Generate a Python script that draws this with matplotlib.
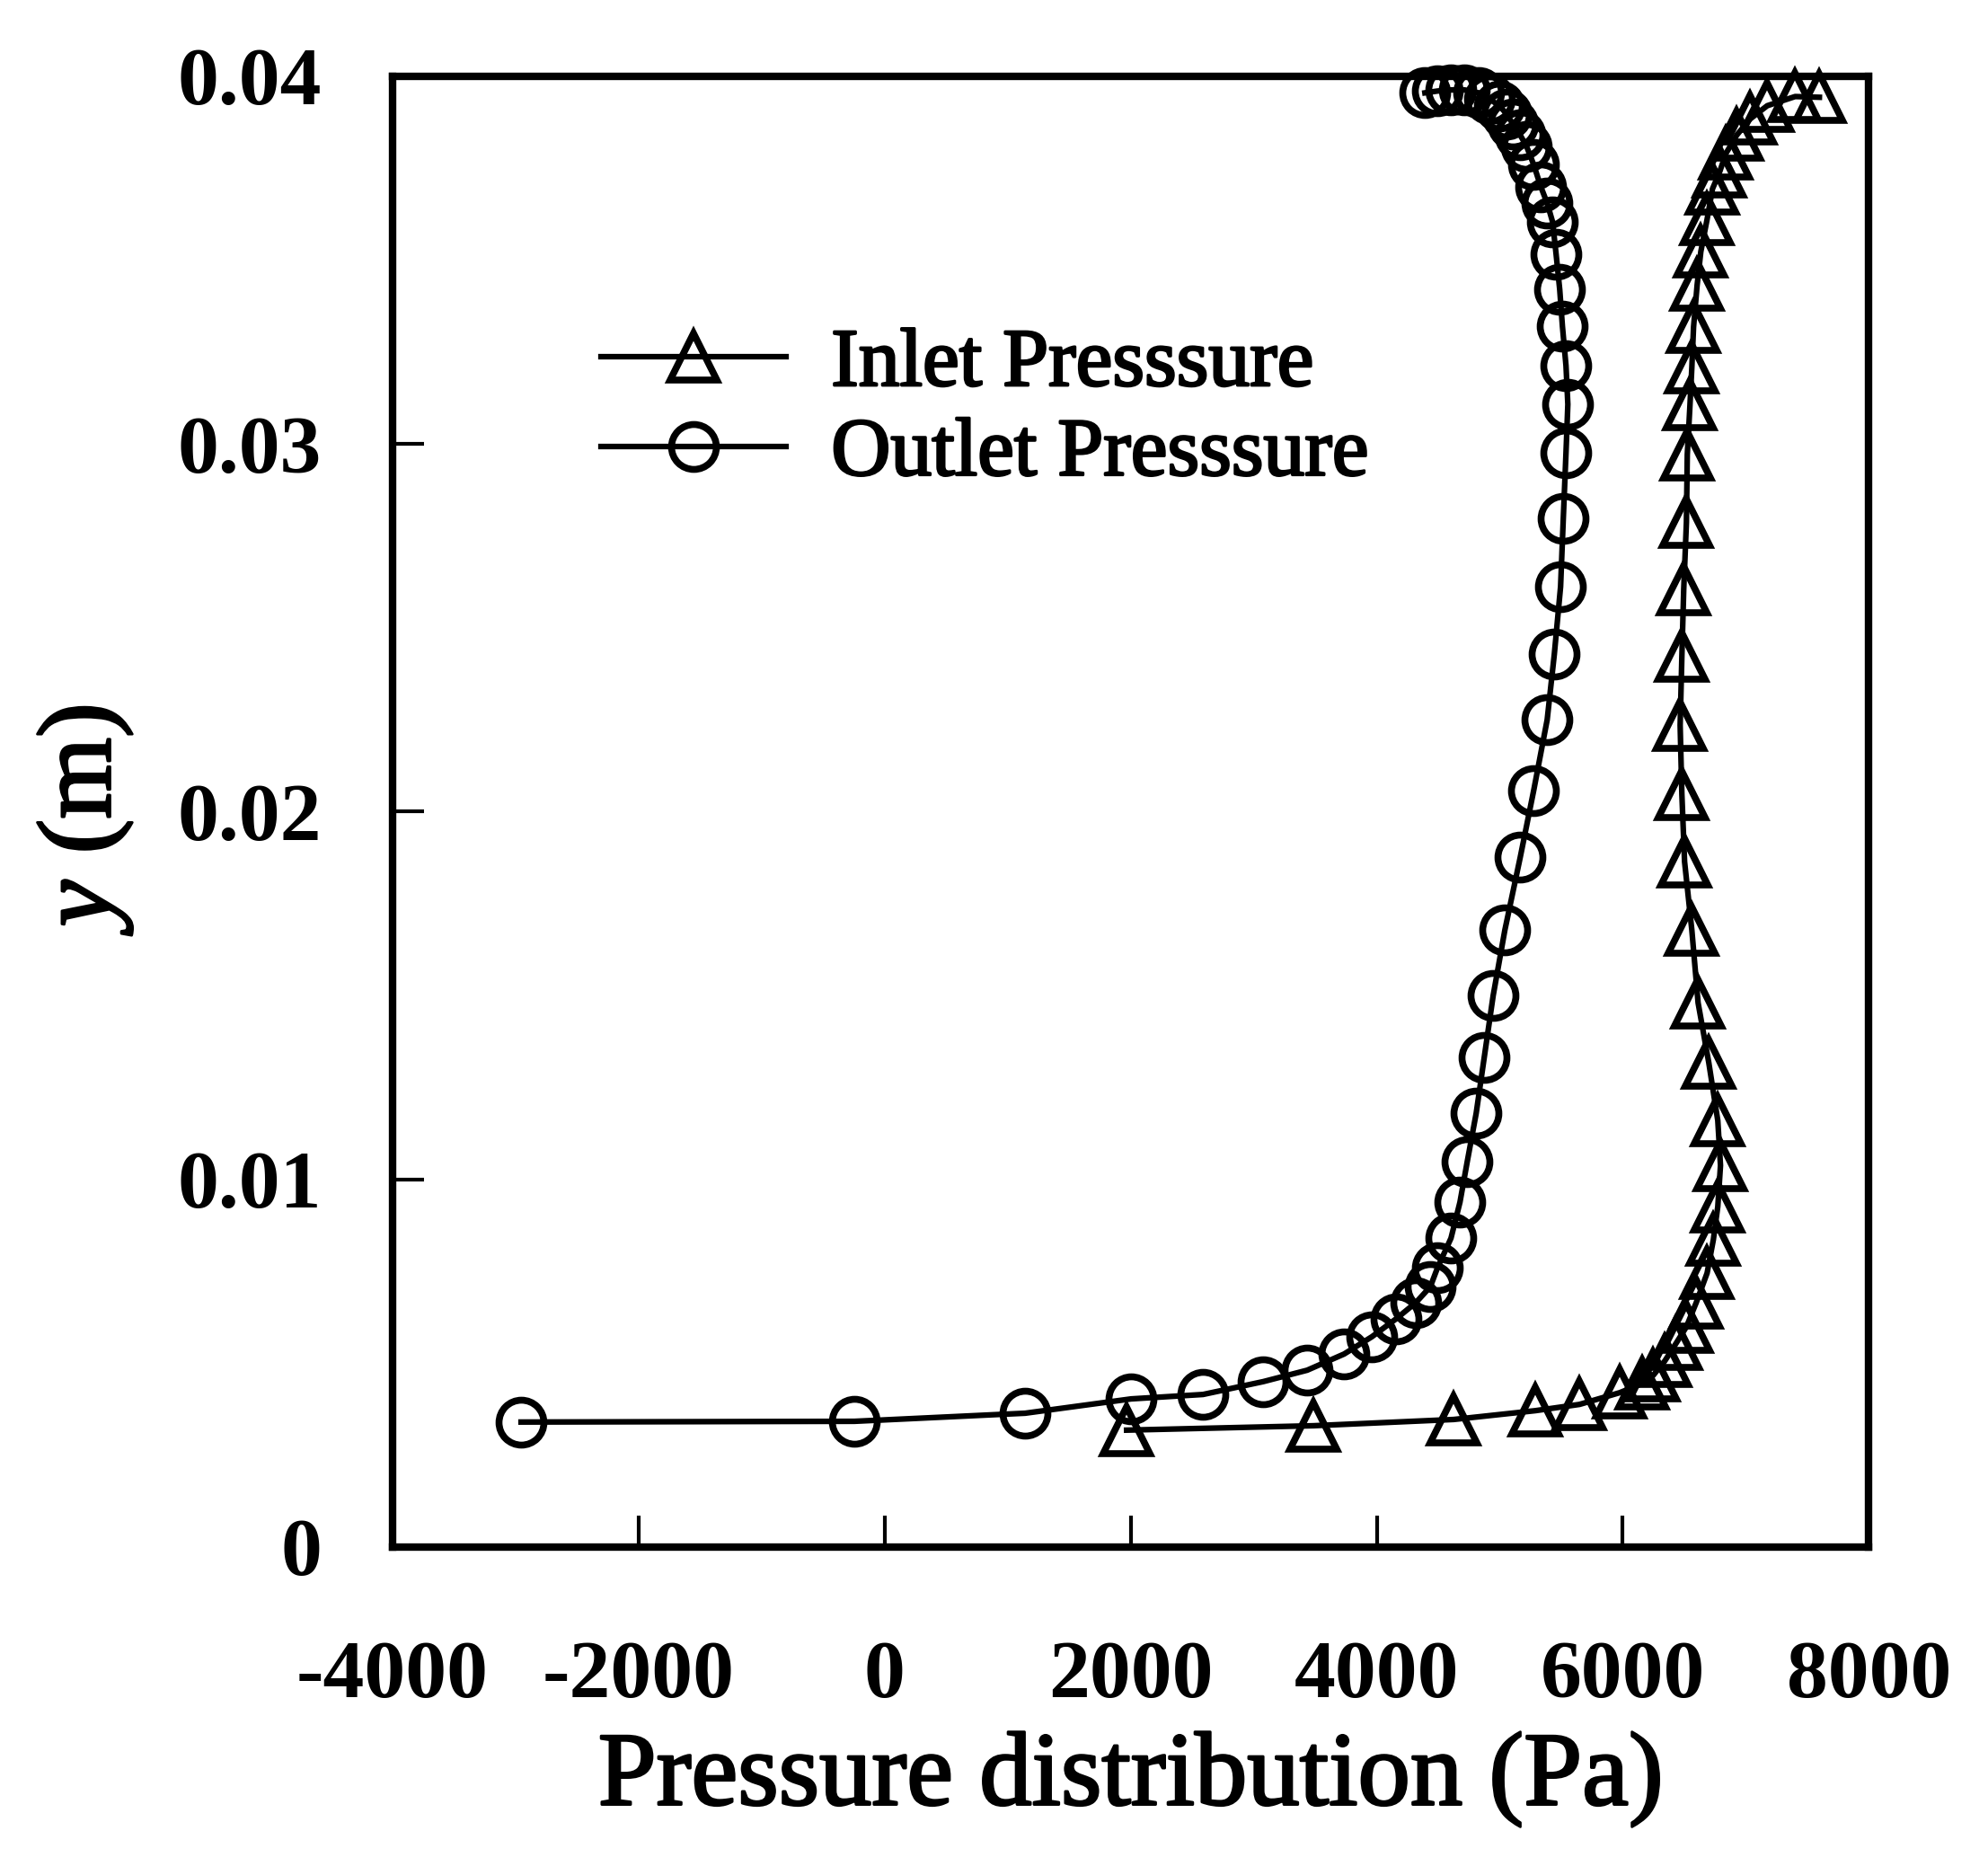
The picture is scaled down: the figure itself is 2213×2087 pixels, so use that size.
import numpy as np
import matplotlib
matplotlib.use("Agg")
import matplotlib.pyplot as plt
import matplotlib.patheffects as pe

# inlet pressure profile (triangles)
inlet_p = [1967, 3487, 4626, 5291, 5649, 5977, 6160, 6248, 6342, 6430,
           6518, 6598, 6686, 6737, 6773, 6795, 6773, 6700, 6613, 6562,
           6503, 6481, 6467, 6481, 6496, 6518, 6525, 6547, 6562, 6576,
           6605, 6635, 6686, 6730, 6788, 6839, 6927, 7036, 7175, 7402, 7599]
inlet_y = [0.00318, 0.00330, 0.00347, 0.00371, 0.00388, 0.00420, 0.00445,
           0.00467, 0.00506, 0.00552, 0.00599, 0.00665, 0.00745, 0.00836,
           0.00926, 0.01038, 0.01160, 0.01317, 0.01480, 0.01678, 0.01864,
           0.02047, 0.02235, 0.02423, 0.02604, 0.02787, 0.02971, 0.03107,
           0.03208, 0.03318, 0.03432, 0.03523, 0.03611, 0.03694, 0.03740,
           0.03790, 0.03840, 0.03884, 0.03920, 0.03945, 0.03943]

# outlet pressure profile (circles)
outlet_p = [-2956, -246, 1142, 2004, 2588, 3078, 3435, 3735, 3961, 4159,
            4319, 4436, 4495, 4604, 4677, 4736, 4809, 4874, 4947, 5042,
            5167, 5276, 5386, 5444, 5495, 5517, 5539, 5554, 5539, 5510,
            5488, 5459, 5430, 5386, 5334, 5276, 5218, 5167, 5108, 5057,
            4998, 4918, 4831, 4714, 4604, 4495, 4392]
outlet_y = [0.00340, 0.00342, 0.00364, 0.00403, 0.00415, 0.00450, 0.00481,
            0.00525, 0.00572, 0.00621, 0.00665, 0.00708, 0.00760, 0.00840,
            0.00938, 0.01048, 0.01180, 0.01331, 0.01500, 0.01678, 0.01876,
            0.02057, 0.02250, 0.02428, 0.02612, 0.02797, 0.02976, 0.03108,
            0.03213, 0.03320, 0.03420, 0.03515, 0.03604, 0.03655, 0.03700,
            0.03760, 0.03810, 0.03840, 0.03870, 0.03897, 0.03920, 0.03938,
            0.03955, 0.03963, 0.03963, 0.03960, 0.03955]

x_ticks = [-4000, -2000, 0, 2000, 4000, 6000, 8000]
y_ticks = [0, 0.01, 0.02, 0.03, 0.04]
y_tick_labels = ["0", "0.01", "0.02", "0.03", "0.04"]

plt.rcParams["font.family"] = "Liberation Serif"
plt.rcParams["mathtext.fontset"] = "custom"
plt.rcParams["mathtext.it"] = "Liberation Serif:italic"
plt.rcParams["mathtext.rm"] = "Liberation Serif"

fig = plt.figure(figsize=(22.13, 20.87), dpi=100)
ax = fig.add_axes([0.1975, 0.1749, 0.7425, 0.7844])

heavy = [pe.withStroke(linewidth=2, foreground="black")]

ax.plot(inlet_p, inlet_y, color="black", lw=4.5, marker="^", ms=37,
        mfc="none", mec="black", mew=5.5, clip_on=False,
        label="Inlet Presssure")
ax.plot(outlet_p, outlet_y, color="black", lw=4.5, marker="o", ms=36,
        mfc="none", mec="black", mew=5.5, clip_on=False,
        label="Outlet Presssure")

ax.set_xlim(-4000, 8000)
ax.set_ylim(0, 0.04)
ax.set_xticks(x_ticks)
ax.set_xticklabels([str(t) for t in x_ticks])
ax.set_yticks(y_ticks)
ax.set_yticklabels(y_tick_labels)

ax.tick_params(axis="both", direction="in", length=25, width=3)
ax.tick_params(axis="x", pad=75, labelsize=66)
ax.tick_params(axis="y", pad=57, labelsize=66)
for lab in ax.get_xticklabels() + ax.get_yticklabels():
    lab.set_fontweight("bold")

for sp in ax.spines.values():
    sp.set_linewidth(6)

xl = ax.set_xlabel("Pressure distribution (Pa)", fontsize=84, labelpad=14)
yl = ax.set_ylabel(r"$y$ (m)", fontsize=84, labelpad=34)
xl.set_path_effects(heavy)
yl.set_path_effects(heavy)

leg = ax.legend(loc="upper left", bbox_to_anchor=(0.113, 0.857),
                frameon=False, fontsize=66, handlelength=2.25,
                handletextpad=0.55, labelspacing=0.18, borderpad=0)
for t in leg.get_texts():
    t.set_path_effects(heavy)

fig.savefig("out.png", dpi=100)
